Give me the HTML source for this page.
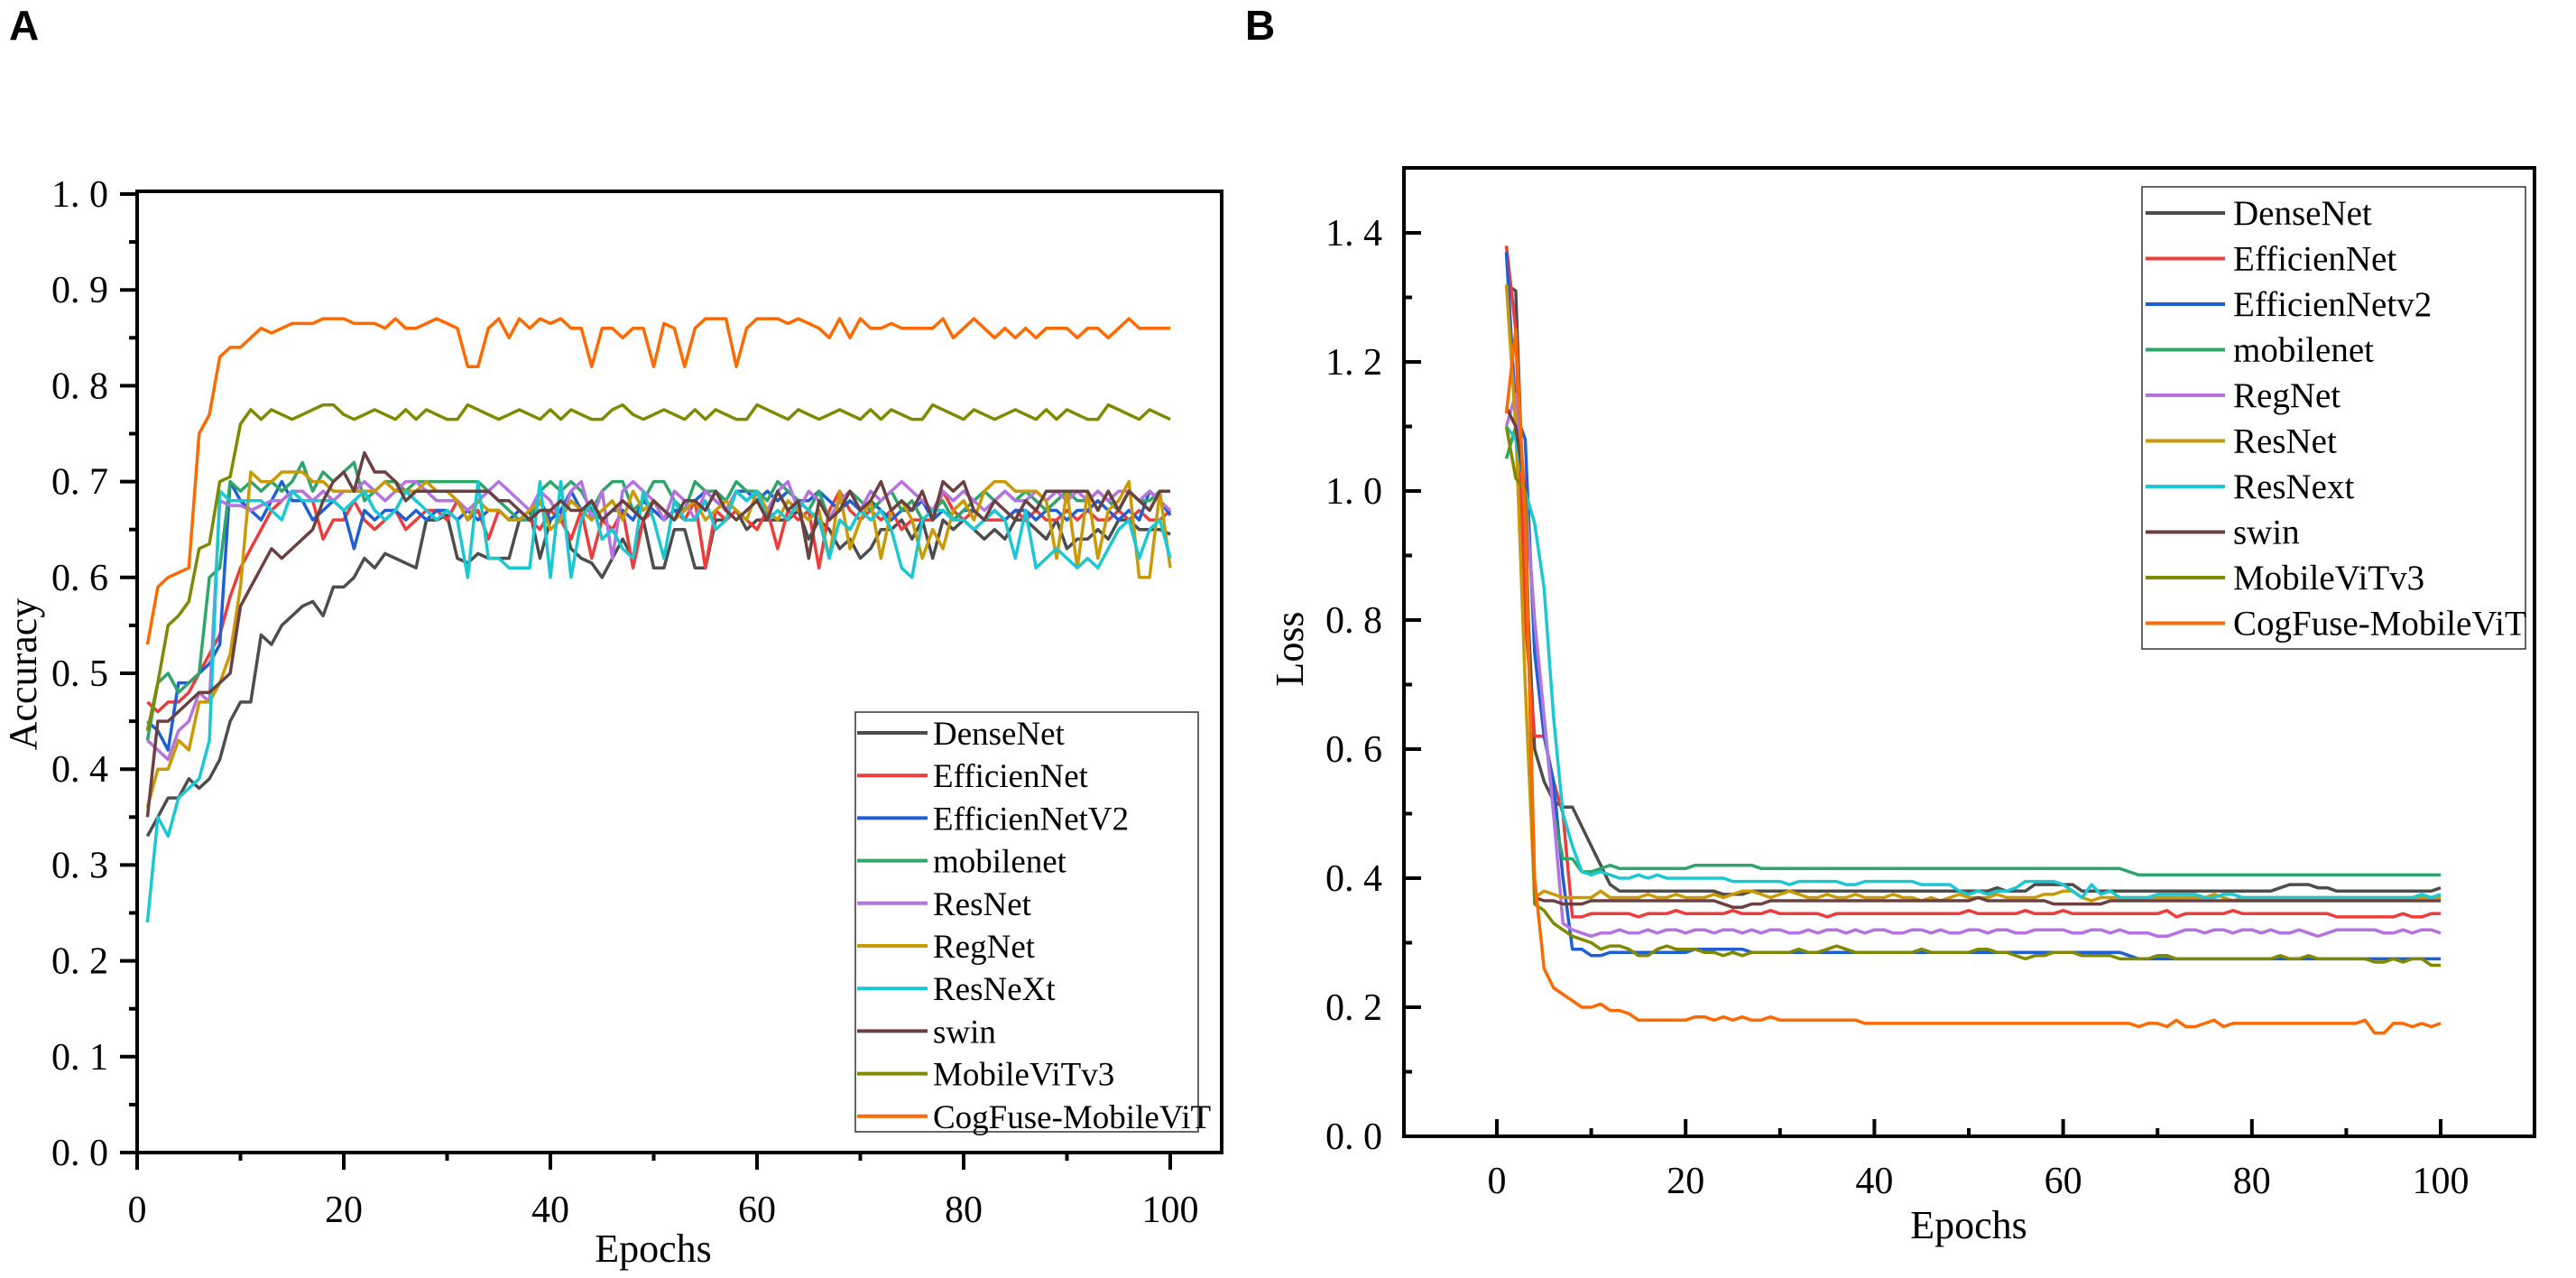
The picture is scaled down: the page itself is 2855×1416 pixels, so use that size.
<!DOCTYPE html>
<html><head><meta charset="utf-8"><style>
html,body{margin:0;padding:0;background:#fff}
svg{display:block}
text{font-family:"Liberation Serif","Noto Serif CJK SC",serif;fill:#000}
</style></head><body>
<svg id="fig" width="2855" height="1416" viewBox="0 0 2855 1416" xmlns="http://www.w3.org/2000/svg">
<text x="10" y="44" style="font-family:'Liberation Sans',sans-serif;font-weight:bold;font-size:46px">A</text>
<text x="1380" y="44" style="font-family:'Liberation Sans',sans-serif;font-weight:bold;font-size:46px">B</text>
<g id="gA"></g>
<g id="gB"></g>
</svg>
<script>
const namesA = ["DenseNet","EfficienNet","EfficienNetV2","mobilenet","ResNet","RegNet","ResNeXt","swin","MobileViTv3","CogFuse-MobileViT"];
const namesB = ["DenseNet","EfficienNet","EfficienNetv2","mobilenet","RegNet","ResNet","ResNext","swin","MobileViTv3","CogFuse-MobileViT"];
const colorsA = ["#4d4d4d","#ee3b3b","#1f5fd6","#2ea66a","#b573e0","#c99a06","#19c8d2","#6b4040","#7f8a00","#ff6a00"];
const colorsB = ["#4d4d4d","#ee3b3b","#1f5fd6","#2ea66a","#b573e0","#c99a06","#19c8d2","#6b4040","#7f8a00","#ff6a00"];
const ticksAy = ["0. 0","0. 1","0. 2","0. 3","0. 4","0. 5","0. 6","0. 7","0. 8","0. 9","1. 0"];
const ticksBy = ["0. 0","0. 2","0. 4","0. 6","0. 8","1. 0","1. 2","1. 4"];
const ticksX = [0,20,40,60,80,100];

const accDense = [0.33,0.35,0.37,0.37,0.39,0.38,0.39,0.41,0.45,0.47,0.47,0.54,0.53,0.55,0.56,0.57,0.575,0.56,0.59,0.59,0.60,0.62,0.61,0.625,0.62,0.615,0.61,0.66,0.66,0.665,0.62,0.615,0.625,0.62,0.62,0.62,0.66,0.67,0.62,0.66,0.67,0.63,0.62,0.615,0.60,0.62,0.64,0.62,0.66,0.61,0.61,0.65,0.65,0.61,0.61,0.66,0.66,0.67,0.65,0.66,0.66,0.66,0.66,0.67,0.64,0.66,0.65,0.63,0.64,0.62,0.63,0.65,0.65,0.66,0.64,0.66,0.62,0.66,0.65,0.66,0.65,0.64,0.65,0.64,0.66,0.66,0.65,0.64,0.66,0.63,0.64,0.64,0.65,0.64,0.66,0.66,0.65,0.65,0.65,0.645];
const accEff = [0.47,0.46,0.47,0.47,0.48,0.50,0.52,0.54,0.58,0.61,0.63,0.65,0.67,0.68,0.69,0.69,0.68,0.64,0.66,0.66,0.68,0.66,0.65,0.66,0.67,0.65,0.66,0.67,0.67,0.66,0.68,0.66,0.67,0.64,0.67,0.66,0.67,0.66,0.65,0.67,0.66,0.64,0.67,0.62,0.66,0.65,0.67,0.61,0.66,0.67,0.66,0.67,0.66,0.68,0.61,0.67,0.66,0.67,0.66,0.65,0.67,0.63,0.67,0.66,0.67,0.61,0.67,0.69,0.67,0.66,0.67,0.66,0.67,0.65,0.66,0.66,0.66,0.69,0.67,0.66,0.67,0.66,0.66,0.66,0.67,0.66,0.67,0.66,0.66,0.67,0.66,0.67,0.66,0.66,0.67,0.66,0.67,0.66,0.66,0.67];
const accEff2 = [0.45,0.44,0.42,0.49,0.49,0.50,0.51,0.53,0.70,0.68,0.67,0.66,0.68,0.70,0.68,0.68,0.66,0.67,0.68,0.67,0.63,0.67,0.66,0.67,0.67,0.66,0.67,0.66,0.67,0.67,0.66,0.67,0.66,0.67,0.67,0.66,0.67,0.66,0.68,0.66,0.67,0.69,0.67,0.67,0.66,0.67,0.67,0.66,0.68,0.67,0.66,0.67,0.67,0.68,0.69,0.68,0.67,0.69,0.69,0.68,0.69,0.68,0.69,0.68,0.68,0.69,0.68,0.67,0.68,0.67,0.68,0.67,0.66,0.67,0.67,0.68,0.66,0.67,0.66,0.67,0.67,0.66,0.67,0.66,0.67,0.67,0.66,0.67,0.67,0.66,0.67,0.67,0.68,0.67,0.66,0.67,0.66,0.69,0.68,0.665];
const accMob = [0.43,0.49,0.50,0.48,0.49,0.50,0.60,0.61,0.70,0.69,0.70,0.69,0.70,0.69,0.70,0.72,0.69,0.71,0.70,0.71,0.72,0.68,0.69,0.70,0.70,0.69,0.70,0.70,0.70,0.70,0.70,0.70,0.70,0.69,0.68,0.67,0.66,0.66,0.69,0.70,0.69,0.70,0.69,0.67,0.69,0.70,0.70,0.67,0.68,0.70,0.70,0.68,0.67,0.70,0.69,0.69,0.68,0.70,0.69,0.69,0.68,0.70,0.69,0.68,0.67,0.69,0.66,0.68,0.69,0.68,0.67,0.68,0.69,0.67,0.68,0.66,0.67,0.68,0.66,0.67,0.68,0.69,0.68,0.69,0.68,0.69,0.68,0.67,0.68,0.69,0.68,0.68,0.69,0.68,0.67,0.69,0.68,0.68,0.69,0.69];
const accResNet = [0.43,0.42,0.41,0.44,0.45,0.48,0.47,0.68,0.675,0.675,0.67,0.675,0.68,0.68,0.69,0.69,0.68,0.69,0.68,0.69,0.69,0.70,0.69,0.68,0.69,0.70,0.70,0.69,0.68,0.68,0.68,0.67,0.68,0.69,0.70,0.69,0.68,0.67,0.69,0.68,0.66,0.69,0.70,0.66,0.69,0.62,0.69,0.70,0.69,0.68,0.66,0.69,0.68,0.66,0.69,0.68,0.67,0.69,0.68,0.69,0.67,0.69,0.70,0.67,0.69,0.68,0.66,0.68,0.69,0.67,0.69,0.68,0.69,0.70,0.69,0.68,0.67,0.69,0.68,0.69,0.68,0.67,0.68,0.69,0.68,0.68,0.69,0.68,0.69,0.68,0.69,0.68,0.69,0.68,0.69,0.69,0.68,0.69,0.68,0.67];
const accRegNet = [0.36,0.40,0.40,0.43,0.42,0.47,0.47,0.49,0.52,0.59,0.71,0.70,0.70,0.71,0.71,0.71,0.70,0.70,0.69,0.69,0.69,0.69,0.69,0.70,0.69,0.69,0.69,0.70,0.69,0.69,0.68,0.66,0.68,0.67,0.67,0.66,0.66,0.67,0.68,0.65,0.66,0.68,0.67,0.66,0.67,0.68,0.66,0.69,0.67,0.68,0.67,0.66,0.67,0.68,0.66,0.67,0.68,0.67,0.66,0.69,0.67,0.66,0.68,0.67,0.66,0.67,0.62,0.69,0.63,0.66,0.68,0.62,0.67,0.68,0.66,0.62,0.65,0.63,0.67,0.68,0.66,0.69,0.70,0.70,0.69,0.69,0.69,0.68,0.62,0.69,0.61,0.69,0.62,0.67,0.68,0.70,0.60,0.60,0.69,0.61];
const accResNeXt = [0.24,0.35,0.33,0.37,0.38,0.39,0.43,0.69,0.68,0.68,0.68,0.68,0.67,0.66,0.69,0.68,0.68,0.68,0.68,0.67,0.68,0.69,0.67,0.66,0.67,0.69,0.68,0.67,0.66,0.67,0.66,0.60,0.70,0.62,0.62,0.61,0.61,0.61,0.70,0.60,0.70,0.60,0.66,0.68,0.64,0.65,0.63,0.62,0.69,0.66,0.62,0.68,0.66,0.66,0.68,0.65,0.66,0.69,0.68,0.69,0.66,0.67,0.66,0.68,0.67,0.66,0.62,0.66,0.65,0.67,0.66,0.67,0.65,0.61,0.60,0.66,0.67,0.67,0.66,0.66,0.65,0.66,0.67,0.66,0.62,0.67,0.61,0.62,0.63,0.62,0.61,0.62,0.61,0.63,0.65,0.66,0.62,0.65,0.66,0.62];
const accSwin = [0.35,0.45,0.45,0.46,0.47,0.48,0.48,0.49,0.50,0.57,0.59,0.61,0.63,0.62,0.63,0.64,0.65,0.68,0.70,0.71,0.69,0.73,0.71,0.71,0.70,0.68,0.69,0.69,0.69,0.69,0.69,0.69,0.69,0.69,0.68,0.68,0.67,0.66,0.67,0.67,0.68,0.67,0.67,0.68,0.66,0.67,0.68,0.67,0.66,0.68,0.67,0.66,0.68,0.68,0.67,0.69,0.67,0.66,0.67,0.68,0.66,0.69,0.67,0.68,0.62,0.68,0.66,0.67,0.69,0.67,0.68,0.70,0.67,0.68,0.67,0.69,0.66,0.70,0.69,0.70,0.67,0.66,0.68,0.67,0.66,0.68,0.67,0.69,0.69,0.69,0.69,0.69,0.67,0.69,0.67,0.69,0.68,0.67,0.69,0.69];
const accMvit3 = [0.44,0.49,0.55,0.56,0.575,0.63,0.635,0.70,0.705,0.76,0.775,0.765,0.775,0.77,0.765,0.77,0.775,0.78,0.78,0.77,0.765,0.77,0.775,0.77,0.765,0.775,0.765,0.775,0.77,0.765,0.765,0.78,0.775,0.77,0.765,0.77,0.775,0.77,0.765,0.775,0.765,0.775,0.77,0.765,0.765,0.775,0.78,0.77,0.765,0.77,0.775,0.77,0.765,0.775,0.765,0.775,0.77,0.765,0.765,0.78,0.775,0.77,0.765,0.775,0.77,0.765,0.77,0.775,0.77,0.765,0.775,0.765,0.775,0.77,0.765,0.765,0.78,0.775,0.77,0.765,0.775,0.77,0.765,0.77,0.775,0.77,0.765,0.775,0.765,0.775,0.77,0.765,0.765,0.78,0.775,0.77,0.765,0.775,0.77,0.765];
const accCog = [0.53,0.59,0.60,0.605,0.61,0.75,0.77,0.83,0.84,0.84,0.85,0.86,0.855,0.86,0.865,0.865,0.865,0.87,0.87,0.87,0.865,0.865,0.865,0.86,0.87,0.86,0.86,0.865,0.87,0.865,0.86,0.82,0.82,0.86,0.87,0.85,0.87,0.86,0.87,0.865,0.87,0.86,0.86,0.82,0.86,0.86,0.85,0.86,0.86,0.82,0.865,0.86,0.82,0.86,0.87,0.87,0.87,0.82,0.86,0.87,0.87,0.87,0.865,0.87,0.865,0.86,0.85,0.87,0.85,0.87,0.86,0.86,0.865,0.86,0.86,0.86,0.86,0.87,0.85,0.86,0.87,0.86,0.85,0.86,0.85,0.86,0.85,0.86,0.86,0.86,0.85,0.86,0.86,0.85,0.86,0.87,0.86,0.86,0.86,0.86];

const lossDense = [1.32,1.31,0.90,0.60,0.55,0.52,0.51,0.51,0.48,0.45,0.42,0.39,0.38,0.38,0.38,0.38,0.38,0.38,0.38,0.38,0.38,0.38,0.38,0.375,0.375,0.375,0.38,0.38,0.38,0.38,0.38,0.38,0.38,0.38,0.38,0.38,0.38,0.38,0.38,0.38,0.38,0.38,0.38,0.38,0.38,0.38,0.38,0.38,0.38,0.38,0.38,0.38,0.385,0.38,0.38,0.38,0.39,0.39,0.39,0.39,0.39,0.38,0.38,0.38,0.38,0.38,0.38,0.38,0.38,0.38,0.38,0.38,0.38,0.38,0.38,0.38,0.38,0.38,0.38,0.38,0.38,0.38,0.385,0.39,0.39,0.39,0.385,0.385,0.38,0.38,0.38,0.38,0.38,0.38,0.38,0.38,0.38,0.38,0.38,0.385];
const lossEff = [1.38,1.25,0.80,0.62,0.62,0.55,0.50,0.34,0.34,0.345,0.345,0.345,0.345,0.345,0.34,0.345,0.345,0.345,0.35,0.345,0.345,0.345,0.345,0.345,0.35,0.345,0.345,0.345,0.35,0.345,0.345,0.345,0.345,0.345,0.34,0.345,0.345,0.345,0.345,0.345,0.345,0.345,0.345,0.345,0.345,0.345,0.345,0.345,0.345,0.35,0.345,0.345,0.345,0.345,0.345,0.35,0.345,0.345,0.345,0.35,0.345,0.345,0.345,0.345,0.345,0.345,0.345,0.345,0.345,0.345,0.35,0.34,0.345,0.345,0.345,0.345,0.345,0.35,0.345,0.345,0.345,0.345,0.345,0.345,0.345,0.345,0.345,0.345,0.34,0.34,0.34,0.34,0.34,0.34,0.34,0.345,0.34,0.34,0.345,0.345];
const lossEff2 = [1.37,1.12,1.08,0.75,0.62,0.55,0.40,0.29,0.29,0.28,0.28,0.285,0.285,0.285,0.285,0.285,0.285,0.285,0.285,0.285,0.29,0.29,0.29,0.29,0.29,0.29,0.285,0.285,0.285,0.285,0.285,0.285,0.285,0.285,0.285,0.285,0.285,0.285,0.285,0.285,0.285,0.285,0.285,0.285,0.285,0.285,0.285,0.285,0.285,0.285,0.285,0.285,0.285,0.285,0.285,0.285,0.285,0.285,0.285,0.285,0.285,0.285,0.285,0.285,0.285,0.285,0.28,0.275,0.275,0.275,0.275,0.275,0.275,0.275,0.275,0.275,0.275,0.275,0.275,0.275,0.275,0.275,0.275,0.275,0.275,0.275,0.275,0.275,0.275,0.275,0.275,0.275,0.275,0.275,0.275,0.275,0.275,0.275,0.275,0.275];
const lossMob = [1.05,1.10,1.00,0.80,0.65,0.50,0.43,0.43,0.41,0.41,0.415,0.42,0.415,0.415,0.415,0.415,0.415,0.415,0.415,0.415,0.42,0.42,0.42,0.42,0.42,0.42,0.42,0.415,0.415,0.415,0.415,0.415,0.415,0.415,0.415,0.415,0.415,0.415,0.415,0.415,0.415,0.415,0.415,0.415,0.415,0.415,0.415,0.415,0.415,0.415,0.415,0.415,0.415,0.415,0.415,0.415,0.415,0.415,0.415,0.415,0.415,0.415,0.415,0.415,0.415,0.415,0.41,0.405,0.405,0.405,0.405,0.405,0.405,0.405,0.405,0.405,0.405,0.405,0.405,0.405,0.405,0.405,0.405,0.405,0.405,0.405,0.405,0.405,0.405,0.405,0.405,0.405,0.405,0.405,0.405,0.405,0.405,0.405,0.405,0.405];
const lossRegNet = [1.10,1.15,1.00,0.80,0.65,0.50,0.33,0.32,0.315,0.31,0.315,0.315,0.32,0.315,0.315,0.32,0.315,0.32,0.32,0.315,0.32,0.32,0.315,0.32,0.32,0.315,0.32,0.315,0.32,0.32,0.315,0.315,0.32,0.315,0.32,0.32,0.315,0.32,0.315,0.32,0.32,0.315,0.315,0.32,0.32,0.315,0.32,0.315,0.315,0.32,0.32,0.315,0.32,0.32,0.315,0.315,0.32,0.32,0.32,0.32,0.315,0.315,0.32,0.32,0.315,0.32,0.315,0.315,0.315,0.31,0.31,0.315,0.32,0.32,0.315,0.32,0.32,0.315,0.32,0.32,0.315,0.32,0.315,0.315,0.32,0.315,0.31,0.315,0.32,0.32,0.32,0.32,0.32,0.315,0.315,0.32,0.315,0.32,0.32,0.315];
const lossResNet = [1.32,1.10,0.70,0.37,0.38,0.375,0.37,0.37,0.37,0.37,0.38,0.37,0.37,0.37,0.37,0.375,0.37,0.37,0.375,0.37,0.37,0.37,0.375,0.37,0.375,0.38,0.38,0.375,0.37,0.375,0.38,0.375,0.37,0.37,0.375,0.37,0.37,0.375,0.37,0.37,0.37,0.375,0.37,0.37,0.365,0.37,0.365,0.37,0.375,0.37,0.37,0.37,0.375,0.37,0.37,0.37,0.37,0.375,0.375,0.38,0.38,0.37,0.365,0.37,0.37,0.37,0.37,0.37,0.37,0.37,0.37,0.37,0.37,0.37,0.37,0.375,0.37,0.365,0.37,0.37,0.37,0.37,0.37,0.37,0.37,0.37,0.37,0.37,0.37,0.37,0.37,0.37,0.37,0.37,0.37,0.37,0.37,0.37,0.37,0.37];
const lossResNext = [1.10,1.08,1.00,0.95,0.85,0.65,0.50,0.45,0.41,0.405,0.41,0.405,0.40,0.40,0.405,0.40,0.405,0.40,0.40,0.40,0.40,0.40,0.40,0.40,0.395,0.395,0.395,0.395,0.395,0.395,0.39,0.395,0.395,0.395,0.395,0.395,0.39,0.39,0.395,0.395,0.395,0.395,0.395,0.395,0.39,0.39,0.39,0.39,0.38,0.375,0.38,0.375,0.38,0.38,0.385,0.395,0.395,0.395,0.395,0.39,0.38,0.37,0.39,0.375,0.38,0.37,0.37,0.37,0.37,0.375,0.375,0.375,0.375,0.375,0.37,0.37,0.375,0.375,0.37,0.37,0.37,0.37,0.37,0.37,0.37,0.37,0.37,0.37,0.37,0.37,0.37,0.37,0.37,0.37,0.37,0.37,0.37,0.375,0.37,0.375];
const lossSwin = [1.13,1.10,1.00,0.37,0.365,0.365,0.36,0.36,0.36,0.365,0.365,0.365,0.365,0.365,0.365,0.365,0.365,0.365,0.365,0.365,0.365,0.365,0.365,0.36,0.355,0.355,0.36,0.36,0.365,0.365,0.365,0.365,0.365,0.365,0.365,0.365,0.365,0.365,0.365,0.365,0.365,0.365,0.365,0.365,0.365,0.365,0.365,0.365,0.365,0.365,0.37,0.365,0.365,0.365,0.365,0.365,0.365,0.365,0.36,0.36,0.36,0.36,0.36,0.36,0.365,0.365,0.365,0.365,0.365,0.365,0.365,0.365,0.365,0.365,0.365,0.365,0.365,0.365,0.365,0.365,0.365,0.365,0.365,0.365,0.365,0.365,0.365,0.365,0.365,0.365,0.365,0.365,0.365,0.365,0.365,0.365,0.365,0.365,0.365,0.365];
const lossMvit3 = [1.10,1.02,1.00,0.36,0.35,0.33,0.32,0.31,0.305,0.30,0.29,0.295,0.295,0.29,0.28,0.28,0.29,0.295,0.29,0.29,0.29,0.285,0.285,0.28,0.285,0.28,0.285,0.285,0.285,0.285,0.285,0.29,0.285,0.285,0.29,0.295,0.29,0.285,0.285,0.285,0.285,0.285,0.285,0.285,0.29,0.285,0.285,0.285,0.285,0.285,0.29,0.29,0.285,0.285,0.28,0.275,0.28,0.28,0.285,0.285,0.285,0.28,0.28,0.28,0.28,0.275,0.275,0.275,0.275,0.28,0.28,0.275,0.275,0.275,0.275,0.275,0.275,0.275,0.275,0.275,0.275,0.275,0.28,0.275,0.275,0.28,0.275,0.275,0.275,0.275,0.275,0.275,0.27,0.27,0.275,0.27,0.275,0.275,0.265,0.265];
const lossCog = [1.12,1.25,0.95,0.40,0.26,0.23,0.22,0.21,0.20,0.20,0.205,0.195,0.195,0.19,0.18,0.18,0.18,0.18,0.18,0.18,0.185,0.185,0.18,0.185,0.18,0.185,0.18,0.18,0.185,0.18,0.18,0.18,0.18,0.18,0.18,0.18,0.18,0.18,0.175,0.175,0.175,0.175,0.175,0.175,0.175,0.175,0.175,0.175,0.175,0.175,0.175,0.175,0.175,0.175,0.175,0.175,0.175,0.175,0.175,0.175,0.175,0.175,0.175,0.175,0.175,0.175,0.175,0.17,0.175,0.175,0.17,0.18,0.17,0.17,0.175,0.18,0.17,0.175,0.175,0.175,0.175,0.175,0.175,0.175,0.175,0.175,0.175,0.175,0.175,0.175,0.175,0.18,0.16,0.16,0.175,0.175,0.17,0.175,0.17,0.175];

const seriesA = [accDense,accEff,accEff2,accMob,accResNet,accRegNet,accResNeXt,accSwin,accMvit3,accCog];
const seriesB = [lossDense,lossEff,lossEff2,lossMob,lossRegNet,lossResNet,lossResNext,lossSwin,lossMvit3,lossCog];

const NS = "http://www.w3.org/2000/svg";
function mk(parent, tag, attrs, txt){
  const e = document.createElementNS(NS, tag);
  for (const k in attrs) e.setAttribute(k, attrs[k]);
  if (txt !== undefined) e.textContent = txt;
  parent.appendChild(e);
  return e;
}

function drawChart(g, cfg){
  const L=cfg.left, R=cfg.right, T=cfg.top, B=cfg.bottom;
  const sx = v => cfg.x0px + (v - 0) * cfg.pxPerEpoch;
  const sy = v => cfg.y0px - v * cfg.pxPerUnit;
  // series
  cfg.series.forEach((arr, si) => {
    let d = "";
    arr.forEach((v,i) => { d += (i ? "L" : "M") + sx(i+1).toFixed(1) + " " + sy(v).toFixed(1); });
    const p = mk(g, "path", {d:d, fill:"none", stroke:cfg.colors[si], "stroke-width":3.5, "stroke-linejoin":"round"});
    
    
  });
  // frame
  const fr = mk(g, "rect", {x:L, y:T, width:R-L, height:B-T, fill:"none", stroke:"#000", "stroke-width":4});
  
  
  // y ticks
  const dir = cfg.inward ? 1 : -1;
  cfg.yLabels.forEach((lab, i) => {
    const v = i * cfg.yStep;
    const y = sy(v);
    mk(g, "line", {x1:L, x2:L + dir*19, y1:y, y2:y, stroke:"#000", "stroke-width":4});
    const t = mk(g, "text", {x:cfg.yLabelRight, y:y+14, "text-anchor":"end", "font-size":42}, lab);
    
    
    const vm = v + cfg.yStep/2;
    const ym = sy(vm);
    if (ym > T + 2) mk(g, "line", {x1:L, x2:L + dir*9, y1:ym, y2:ym, stroke:"#000", "stroke-width":4});
  });
  // x ticks
  ticksX.forEach(v => {
    const x = sx(v);
    const ydir = cfg.inward ? -1 : 1;
    mk(g, "line", {x1:x, x2:x, y1:B, y2:B + ydir*19, stroke:"#000", "stroke-width":4});
    const xm = sx(v+10);
    if (v < 100) mk(g, "line", {x1:xm, x2:xm, y1:B, y2:B + ydir*9, stroke:"#000", "stroke-width":4});
    const t = mk(g, "text", {x:x, y:cfg.xLabelY, "text-anchor":"middle", "font-size":42}, String(v));
    
    
  });
  const xt = mk(g, "text", {x:cfg.xTitleX, y:cfg.xTitleY, "text-anchor":"middle", "font-size":44}, "Epochs");
  
  
  const yt = mk(g, "text", {x:0, y:0, "text-anchor":"middle", "font-size":44, transform:"translate("+cfg.yTitleX+","+cfg.yTitleY+") rotate(-90)"}, cfg.yTitle);
  
  
  // legend
  const lg = mk(g, "g", {});
  
  
  mk(lg, "rect", {x:cfg.lg.x, y:cfg.lg.y, width:cfg.lg.w, height:cfg.lg.h, fill:"#fff", stroke:"#333", "stroke-width":1.5});
  cfg.names.forEach((n, i) => {
    const y = cfg.lg.first + i * cfg.lg.step;
    const e = mk(lg, "g", {});
    
    
    mk(e, "line", {x1:cfg.lg.lx1, x2:cfg.lg.lx2, y1:y, y2:y, stroke:cfg.colors[i], "stroke-width":4});
    mk(e, "text", {x:cfg.lg.tx, y:y+13, "font-size":cfg.lg.fs}, n);
  });
}

drawChart(document.getElementById("gA"), {
  left:152, right:1354, top:212, bottom:1277,
  x0px:152, pxPerEpoch:11.45, y0px:1277, pxPerUnit:1062,
  series:seriesA, colors:colorsA, names:namesA,
  yLabels:ticksAy, yStep:0.1, yLabelRight:120, inward:false,
  xLabelY:1354, xTitleX:724, xTitleY:1398, yTitle:"Accuracy", yTitleX:40, yTitleY:747,
  lg:{x:948, y:789, w:380, h:465, first:812, step:47.2, lx1:950, lx2:1028, tx:1034, fs:37}
});
drawChart(document.getElementById("gB"), {
  left:1556, right:2809, top:186, bottom:1259,
  x0px:1659, pxPerEpoch:10.46, y0px:1259, pxPerUnit:715,
  series:seriesB, colors:colorsB, names:namesB,
  yLabels:ticksBy, yStep:0.2, yLabelRight:1532, inward:true,
  xLabelY:1322, xTitleX:2182, xTitleY:1372, yTitle:"Loss", yTitleX:1444, yTitleY:719,
  lg:{x:2374, y:207, w:425, h:512, first:236, step:50.5, lx1:2378, lx2:2466, tx:2475, fs:39}
});
</script>
</body></html>
